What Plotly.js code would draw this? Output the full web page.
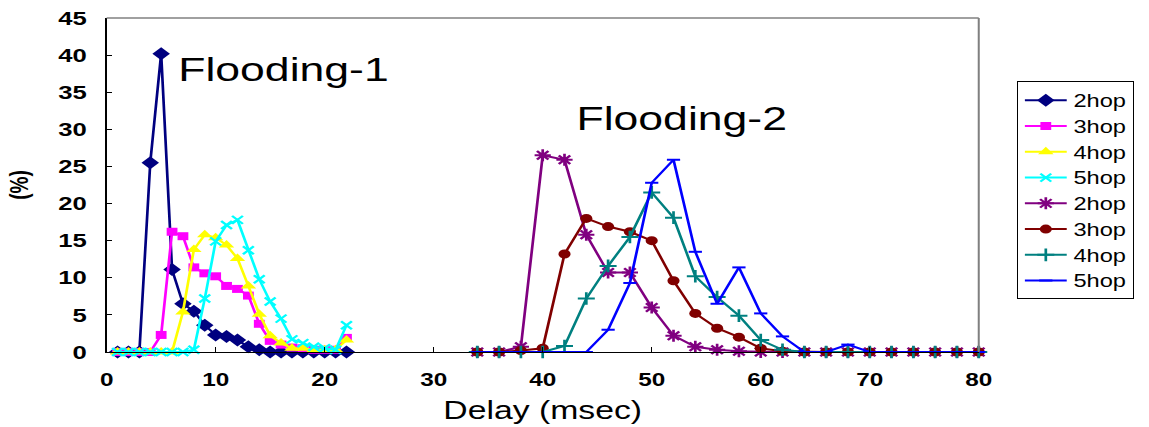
<!DOCTYPE html>
<html>
<head>
<meta charset="utf-8">
<script src="https://cdn.plot.ly/plotly-3.0.1.min.js"></script>
<style>
  html, body { margin: 0; padding: 0; background: #fff; overflow: hidden; }
  #wrap { width: 1149px; height: 427px; overflow: hidden; }
  #chart { width: 851px; height: 427px; transform: scaleX(1.35); transform-origin: 0 0; }
</style>
</head>
<body>
<div id="wrap"><div id="chart"></div></div>
<script>
// Flooding-1 (delay 1..22 ms)
const f1Delay = [1,2,3,4,5,6,7,8,9,10,11,12,13,14,15,16,17,18,19,20,21,22];
const f1Hop2 = [0,0,0,25.5,40.2,11.1,6.5,5.5,3.6,2.3,2.1,1.6,0.7,0.3,0,0,0,0,0,0,0,0];
const f1Hop3 = [0,0,0,0,2.3,16.2,15.6,11.4,10.6,10.2,8.9,8.5,7.6,3.8,1.5,1.0,0.6,0.5,0.3,0.3,0.3,1.9];
const f1Hop4 = [0,0,0,0,0,0,5.4,13.8,15.8,15.4,14.4,12.6,8.9,5.1,2.2,1.2,0.5,0.5,0.3,0.3,0.3,1.6];
const f1Hop5 = [0,0,0,0,0,0,0,0.3,7.2,14.9,17.1,17.8,13.7,9.8,6.8,4.5,1.7,1.2,0.7,0.5,0.3,3.6];

// Flooding-2 (delay 34..80 ms, step 2)
const f2Delay = [34,36,38,40,42,44,46,48,50,52,54,56,58,60,62,64,66,68,70,72,74,76,78,80];
const f2Hop2 = [0,0,0.7,26.5,25.9,15.8,10.7,10.7,6.0,2.2,0.7,0.3,0.1,0,0,0,0,0,0,0,0,0,0,0];
const f2Hop3 = [0,0,0.2,0.5,13.2,18.0,16.9,16.2,15.0,9.6,5.2,3.2,2.0,0.5,0.1,0,0,0,0,0,0,0,0,0];
const f2Hop4 = [0,0,0,0,0.8,7.2,11.6,15.5,21.5,18.1,10.2,7.4,4.9,1.6,0.3,0,0,0,0,0,0,0,0,0];
const f2Hop5 = [0,0,0,0,0,0,3.0,9.3,22.8,25.9,13.5,6.5,11.4,5.2,2.1,0,0,1.0,0,0,0,0,0,0];

const seriesNames = ['2hop','3hop','4hop','5hop','2hop','3hop','4hop','5hop'];
const xTickVals = [0,10,20,30,40,50,60,70,80];
const yTickVals = [0,5,10,15,20,25,30,35,40,45];
const labels = { f1: 'Flooding-1', f2: 'Flooding-2', xTitle: 'Delay (msec)', yTitle: '(%)' };

const FONT = 'Liberation Sans, Arial, sans-serif';

function tr(x, y, name, color, symbol, size, open) {
  const m = { symbol: symbol, size: size, color: color };
  if (open) m.line = { color: color, width: 2 };
  return {
    type: 'scatter', mode: 'lines+markers', x: x, y: y, name: name,
    line: { color: color, width: 2 }, marker: m, cliponaxis: false
  };
}

const data = [
  tr(f1Delay, f1Hop2, seriesNames[0], '#000080', 'diamond', 10, false),
  tr(f1Delay, f1Hop3, seriesNames[1], '#FF00FF', 'square', 8, false),
  tr(f1Delay, f1Hop4, seriesNames[2], '#FFFF00', 'triangle-up', 10, false),
  tr(f1Delay, f1Hop5, seriesNames[3], '#00FFFF', 'x-thin-open', 8, true),
  tr(f2Delay, f2Hop2, seriesNames[4], '#800080', 'asterisk-open', 10, true),
  tr(f2Delay, f2Hop3, seriesNames[5], '#800000', 'circle', 9, false),
  tr(f2Delay, f2Hop4, seriesNames[6], '#008080', 'cross-thin-open', 9, true),
  tr(f2Delay, f2Hop5, seriesNames[7], '#0000FF', 'line-ew-open', 7, true)
];

const layout = {
  width: 851, height: 427,
  margin: { l: 79, r: 125, t: 18, b: 75 },
  paper_bgcolor: '#fff', plot_bgcolor: '#fff',
  font: { family: FONT, color: '#000', size: 17 },
  showlegend: true,
  legend: {
    x: 1.042, xanchor: 'left', y: 0.81, yanchor: 'top',
    bordercolor: '#000', borderwidth: 1, bgcolor: '#fff',
    font: { family: FONT, size: 17.5, color: '#000' },
    tracegroupgap: 0, itemwidth: 31
  },
  xaxis: {
    range: [0, 80], tickvals: xTickVals, ticktext: xTickVals.map(String),
    showgrid: false, zeroline: false, showline: true, linecolor: '#000', linewidth: 1,
    ticks: 'inside', ticklen: 5, tickcolor: '#000',
    tickfont: { family: FONT, size: 18, weight: 'bold' }, ticklabelstandoff: 11,
    title: { text: labels.xTitle, font: { family: FONT, size: 25 }, standoff: 12 }
  },
  yaxis: {
    range: [0, 45], tickvals: yTickVals, ticktext: yTickVals.map(String),
    showgrid: false, zeroline: false, showline: true, linecolor: '#000', linewidth: 1,
    ticks: 'inside', ticklen: 4, tickcolor: '#000',
    tickfont: { family: FONT, size: 19, weight: 'bold' }, ticklabelstandoff: 10,
    title: { text: labels.yTitle, font: { family: FONT, size: 19, weight: 'bold' }, standoff: 16 }
  },
  shapes: [
    { type: 'line', xref: 'paper', yref: 'paper', x0: 0, x1: 1, y0: 1, y1: 1, line: { color: '#808080', width: 1.5 } },
    { type: 'line', xref: 'paper', yref: 'paper', x0: 1, x1: 1, y0: 0, y1: 1, line: { color: '#808080', width: 1.5 } }
  ],
  annotations: [
    { x: 16.2, y: 38.1, xref: 'x', yref: 'y', text: labels.f1, showarrow: false, font: { family: FONT, size: 33, color: '#000' } },
    { x: 52.7, y: 31.4, xref: 'x', yref: 'y', text: labels.f2, showarrow: false, font: { family: FONT, size: 33, color: '#000' } }
  ]
};

Plotly.newPlot('chart', data, layout, { displayModeBar: false, staticPlot: true });
</script>
</body>
</html>
